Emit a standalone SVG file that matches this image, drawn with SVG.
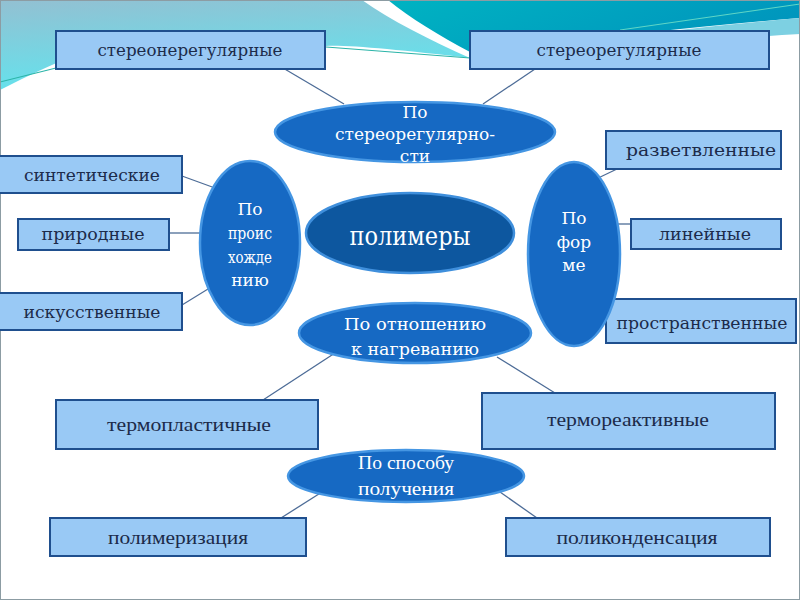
<svg xmlns="http://www.w3.org/2000/svg" width="800" height="600" viewBox="0 0 800 600">
<defs>
<linearGradient id="bgL" x1="0" y1="0" x2="0.3" y2="1">
<stop offset="0" stop-color="#93c0d2"/>
<stop offset="1" stop-color="#62e4ee"/>
</linearGradient>
<linearGradient id="bgR" x1="0" y1="0" x2="1" y2="0.3">
<stop offset="0" stop-color="#00b3c2"/>
<stop offset="1" stop-color="#0096bd"/>
</linearGradient>
<style>
.box{fill:#99c9f5;stroke:#1f4f8e;stroke-width:2}
.ell{fill:#1669c3;stroke:#4596e3;stroke-width:2.5}
.core{fill:#0d579f;stroke:#3f8fdc;stroke-width:2.5}
.bt{font-family:"DejaVu Serif","Liberation Serif",serif;font-size:17px;fill:#1c2b4a;text-anchor:middle}
.bn{font-family:"Liberation Serif","DejaVu Serif",serif;font-size:19px;fill:#1c2b4a;text-anchor:middle}
.et{font-family:"DejaVu Serif","Liberation Serif",serif;font-size:17px;fill:#ffffff;text-anchor:middle}
.en{font-family:"Liberation Serif","DejaVu Serif",serif;font-size:19px;fill:#ffffff;text-anchor:middle}
.cn line{stroke:#4d6c97;stroke-width:1.3}
</style>
</defs>
<rect x="0" y="0" width="800" height="600" fill="#ffffff"/>
<g id="background">
<path d="M0,0 H362 C390,20 430,40 470,58 C400,50 350,45 326,46 C250,30 180,28 150,32 C90,45 40,70 0,90 Z" fill="url(#bgL)"/>
<path d="M388,0 H800 V18 C700,26 580,40 470,52 C440,36 410,18 388,0 Z" fill="url(#bgR)"/>
<path d="M600,38 C680,30 750,22 800,18 V34 C760,36 700,42 640,50 Z" fill="#7dd0e2"/>
<line x1="0" y1="82" x2="60" y2="67" stroke="#2bb4a8" stroke-width="1.2"/>
<line x1="326" y1="47" x2="470" y2="58" stroke="#2bb4a8" stroke-width="1.2"/>
<line x1="620" y1="30" x2="800" y2="4" stroke="#5fd6c6" stroke-width="1"/>
<rect x="0.5" y="0.5" width="799" height="599" fill="none" stroke="#8c9ca3" stroke-width="1"/>
</g>
<g id="connectors" class="cn">
<line x1="283" y1="68" x2="344" y2="104"/>
<line x1="535" y1="69" x2="483" y2="104"/>
<line x1="182" y1="176" x2="215" y2="188"/>
<line x1="169" y1="233" x2="200" y2="233"/>
<line x1="182" y1="305" x2="208" y2="289"/>
<line x1="617" y1="169" x2="594" y2="180"/>
<line x1="613" y1="224" x2="638" y2="224"/>
<line x1="582" y1="307" x2="605" y2="322"/>
<line x1="335" y1="353" x2="263" y2="400"/>
<line x1="497" y1="357" x2="555" y2="393"/>
<line x1="322" y1="492" x2="281" y2="518"/>
<line x1="500" y1="492" x2="537" y2="518"/>
</g>
<g id="n-stereoneregular"><rect class="box" x="56" y="31" width="269" height="38"/><text class="bt" x="190" y="56" textLength="185" lengthAdjust="spacingAndGlyphs">стереонерегулярные</text></g>
<g id="n-stereoregular"><rect class="box" x="470" y="31" width="299" height="38"/><text class="bt" x="619" y="56" textLength="165" lengthAdjust="spacingAndGlyphs">стереорегулярные</text></g>
<g id="n-sintetic"><rect class="box" x="-2" y="156" width="184" height="37"/><text class="bt" x="92" y="181" textLength="136" lengthAdjust="spacingAndGlyphs">синтетические</text></g>
<g id="n-prirodnye"><rect class="box" x="18" y="219" width="151" height="31"/><text class="bt" x="93" y="240" textLength="103" lengthAdjust="spacingAndGlyphs">природные</text></g>
<g id="n-iskusstv"><rect class="box" x="-2" y="293" width="184" height="37"/><text class="bt" x="92" y="318" textLength="137" lengthAdjust="spacingAndGlyphs">искусственные</text></g>
<g id="n-razvetvl"><rect class="box" x="606" y="131" width="175" height="38"/><text class="bt" x="701" y="156" textLength="150" lengthAdjust="spacingAndGlyphs">разветвленные</text></g>
<g id="n-lineinye"><rect class="box" x="631" y="219" width="150" height="30"/><text class="bt" x="705" y="240" textLength="92" lengthAdjust="spacingAndGlyphs">линейные</text></g>
<g id="n-prostr"><rect class="box" x="606" y="299" width="190" height="44"/><text class="bt" x="702" y="329" textLength="171" lengthAdjust="spacingAndGlyphs">пространственные</text></g>
<g id="n-termoplast"><rect class="box" x="56" y="400" width="262" height="49"/><text class="bn" x="189" y="431" textLength="164" lengthAdjust="spacingAndGlyphs">термопластичные</text></g>
<g id="n-termoreakt"><rect class="box" x="482" y="393" width="293" height="56"/><text class="bn" x="628" y="426" textLength="162" lengthAdjust="spacingAndGlyphs">термореактивные</text></g>
<g id="n-polimeriz"><rect class="box" x="50" y="518" width="256" height="38"/><text class="bn" x="178" y="544" textLength="140" lengthAdjust="spacingAndGlyphs">полимеризация</text></g>
<g id="n-polikond"><rect class="box" x="506" y="518" width="264" height="38"/><text class="bn" x="637" y="544" textLength="161" lengthAdjust="spacingAndGlyphs">поликонденсация</text></g>
<g id="e-stereo"><ellipse class="ell" cx="415" cy="132" rx="140" ry="30"/>
<text class="et" x="415" y="118">По</text>
<text class="et" x="415" y="140" textLength="160" lengthAdjust="spacingAndGlyphs">стереорегулярно-</text>
<text class="et" x="415" y="162">сти</text></g>
<g id="e-proiskh"><ellipse class="ell" cx="250" cy="243" rx="50" ry="82"/>
<text class="et" x="250" y="215">По</text>
<text class="et" x="250" y="239" textLength="44" lengthAdjust="spacingAndGlyphs">проис</text>
<text class="et" x="250" y="263" textLength="44" lengthAdjust="spacingAndGlyphs">хожде</text>
<text class="et" x="250" y="286">нию</text></g>
<g id="e-polimery"><ellipse class="core" cx="410" cy="233" rx="104" ry="40"/>
<text class="et" x="410" y="245" style="font-size:26px" textLength="121" lengthAdjust="spacingAndGlyphs">полимеры</text></g>
<g id="e-forme"><ellipse class="ell" cx="574" cy="254" rx="46" ry="92"/>
<text class="et" x="574" y="224">По</text>
<text class="et" x="574" y="248">фор</text>
<text class="et" x="574" y="271">ме</text></g>
<g id="e-nagrev"><ellipse class="ell" cx="415" cy="333" rx="116" ry="30"/>
<text class="et" x="415" y="330" textLength="142" lengthAdjust="spacingAndGlyphs">По отношению</text>
<text class="et" x="415" y="355" textLength="128" lengthAdjust="spacingAndGlyphs">к нагреванию</text></g>
<g id="e-sposob"><ellipse class="ell" cx="406" cy="476" rx="118" ry="26"/>
<text class="en" x="406" y="469" textLength="96" lengthAdjust="spacingAndGlyphs">По способу</text>
<text class="en" x="406" y="495" textLength="96" lengthAdjust="spacingAndGlyphs">получения</text></g>
</svg>
